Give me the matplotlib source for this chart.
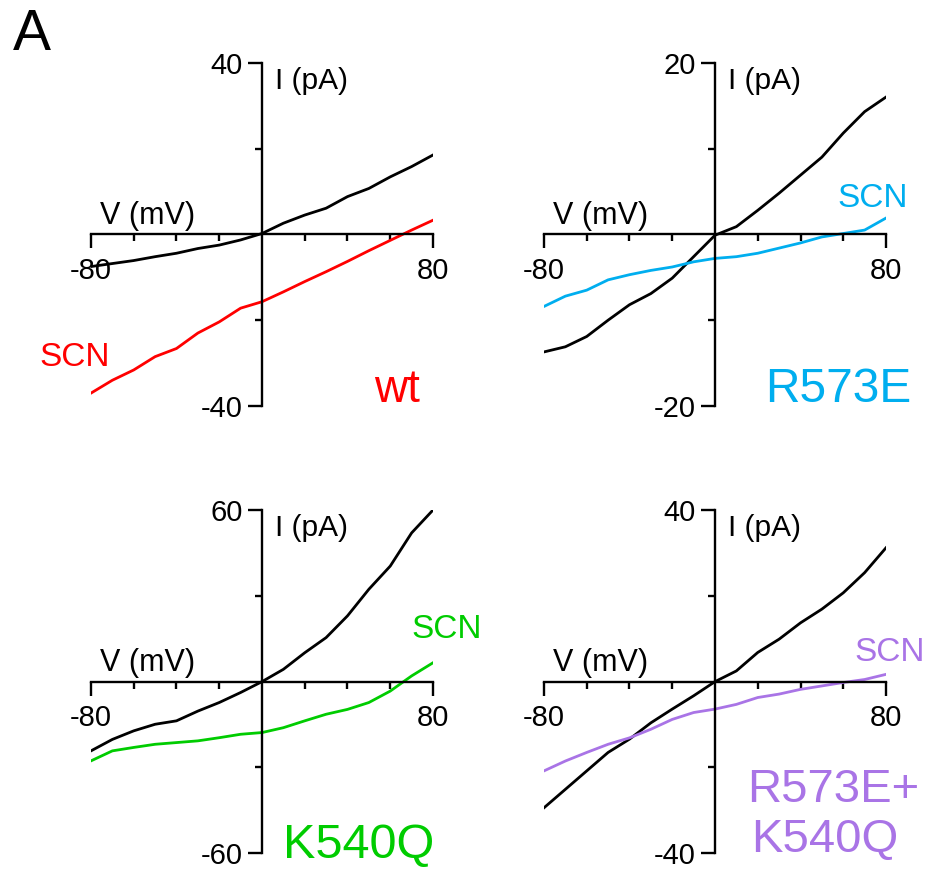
import numpy as np
import matplotlib.pyplot as plt
from matplotlib import ticker

plt.rcParams["font.family"] = ["Liberation Sans", "DejaVu Sans"]

voltage = [-80, -70, -60, -50, -40, -30, -20, -10, 0,
           10, 20, 30, 40, 50, 60, 70, 80]

# currents (pA)
wt_ctrl = [-7.5, -6.8, -6.1, -5.2, -4.4, -3.3, -2.5, -1.3, 0.2,
           2.6, 4.5, 6.1, 8.8, 10.7, 13.4, 15.8, 18.5]
wt_scn = [-37.0, -34.0, -31.6, -28.5, -26.6, -23.0, -20.4, -17.2, -15.7,
          -13.4, -11.0, -8.7, -6.3, -3.8, -1.4, 1.0, 3.3]

r573e_ctrl = [-13.7, -13.1, -11.9, -10.0, -8.2, -6.9, -5.1, -2.6, -0.1,
              0.9, 2.8, 4.8, 6.9, 9.0, 11.8, 14.3, 16.0]
r573e_scn = [-8.4, -7.2, -6.5, -5.3, -4.7, -4.2, -3.8, -3.2, -2.8,
             -2.6, -2.2, -1.6, -1.0, -0.3, 0.1, 0.5, 1.9]

k540q_ctrl = [-24.2, -20.2, -17.2, -14.9, -13.7, -10.3, -7.3, -3.8, 0.0,
              4.3, 10.1, 15.4, 23.0, 32.3, 40.4, 52.0, 60.0]
k540q_scn = [-27.7, -24.2, -23.0, -21.9, -21.3, -20.7, -19.6, -18.4, -17.8,
             -16.1, -13.7, -11.4, -9.7, -7.3, -3.3, 2.0, 6.6]

double_ctrl = [-29.4, -25.1, -20.8, -16.5, -13.4, -9.6, -6.4, -3.3, 0.0,
               2.5, 6.8, 9.9, 13.7, 16.9, 20.7, 25.4, 31.2]
double_scn = [-20.8, -18.5, -16.5, -14.6, -13.1, -11.1, -8.8, -7.2, -6.4,
              -5.3, -3.7, -2.9, -1.8, -1.0, -0.2, 0.5, 1.7]

panels = [
    # ctrl, scn, ylim, colour, rect
    (wt_ctrl, wt_scn, 40, "#ff0000", [0.0973, 0.5328, 0.3658, 0.395]),
    (r573e_ctrl, r573e_scn, 20, "#00aeef", [0.5818, 0.5328, 0.3658, 0.395]),
    (k540q_ctrl, k540q_scn, 60, "#00cc00", [0.0973, 0.0181, 0.3658, 0.395]),
    (double_ctrl, double_scn, 40, "#a974e6", [0.5818, 0.0181, 0.3658, 0.395]),
]

fig = plt.figure(figsize=(9.35, 8.69), dpi=100)
axes = []
for ctrl, scn, ymax, col, rect in panels:
    ax = fig.add_axes(rect)
    ax.plot(voltage, ctrl, color="black", lw=2)
    ax.plot(voltage, scn, color=col, lw=2)
    ax.set_xlim(-80, 80)
    ax.set_ylim(-ymax, ymax)
    ax.spines["left"].set_position(("data", 0))
    ax.spines["bottom"].set_position(("data", 0))
    ax.spines["right"].set_visible(False)
    ax.spines["top"].set_visible(False)
    for s in ("left", "bottom"):
        ax.spines[s].set_linewidth(1.7)
    ax.xaxis.set_major_locator(ticker.FixedLocator([-80, 80]))
    ax.xaxis.set_minor_locator(ticker.FixedLocator([-60, -40, -20, 20, 40, 60]))
    ax.yaxis.set_major_locator(ticker.FixedLocator([-ymax, ymax]))
    ax.yaxis.set_minor_locator(ticker.FixedLocator([-ymax / 2, ymax / 2]))
    ax.xaxis.set_major_formatter(ticker.FormatStrFormatter("%d"))
    ax.yaxis.set_major_formatter(ticker.FormatStrFormatter("%d"))
    ax.tick_params(which="major", direction="out", length=10, width=1.7,
                   labelsize=21, pad=4)
    ax.tick_params(axis="x", which="major", pad=6)
    ax.tick_params(which="minor", direction="out", length=5, width=1.7)
    ax.patch.set_visible(False)
    ax.text(0.539, 0.987, "I (pA)", transform=ax.transAxes, fontsize=21.5,
            ha="left", va="top")
    ax.text(0.027, 0.51, "V (mV)", transform=ax.transAxes, fontsize=22,
            ha="left", va="bottom")
    axes.append(ax)

ax1, ax2, ax3, ax4 = axes

ax1.text(-104, -28.8, "SCN", color="#ff0000", fontsize=24, ha="left",
         va="center", clip_on=False)
ax1.text(74, -39.1, "wt", color="#ff0000", fontsize=33, ha="right",
         va="baseline")

ax2.text(57.4, 4.2, "SCN", color="#00aeef", fontsize=24, ha="left",
         va="center", clip_on=False)
ax2.text(92, -19.5, "R573E", color="#00aeef", fontsize=34.5, ha="right",
         va="baseline", clip_on=False)

ax3.text(70, 18.3, "SCN", color="#00cc00", fontsize=24, ha="left",
         va="center", clip_on=False)
ax3.text(80.6, -61.6, "K540Q", color="#00cc00", fontsize=35, ha="right",
         va="baseline", clip_on=False)

ax4.text(65.3, 6.8, "SCN", color="#a974e6", fontsize=24, ha="left",
         va="center", clip_on=False)
ax4.text(14.9, -28.1, "R573E+", color="#a974e6", fontsize=34, ha="left",
         va="baseline", clip_on=False)
ax4.text(17, -39.6, "K540Q", color="#a974e6", fontsize=34, ha="left",
         va="baseline", clip_on=False)

fig.text(13 / 935, 1 - 50 / 869, "A", fontsize=41, ha="left", va="baseline")

fig.savefig("out.png", dpi=100)
